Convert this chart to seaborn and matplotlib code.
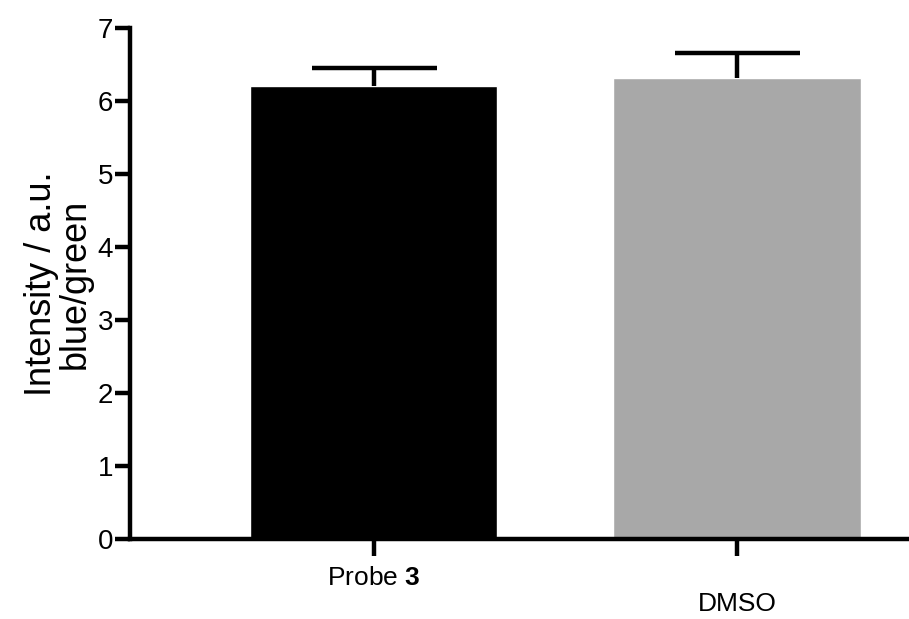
import matplotlib
matplotlib.use("Agg")
import matplotlib.pyplot as plt
import seaborn as sns
import pandas as pd
import numpy as np

categories = ["Probe 3", "DMSO"]
tick_labels = ["Probe $\\mathbf{3}$", "\nDMSO"]
means = [6.20, 6.32]
errors = [0.25, 0.33]
colors = ["#000000", "#A8A8A8"]

sns.set_style("ticks")
plt.rcParams["font.family"] = ["Liberation Sans", "DejaVu Sans"]
plt.rcParams["mathtext.fontset"] = "custom"
plt.rcParams["mathtext.rm"] = "Liberation Sans"
plt.rcParams["mathtext.bf"] = "Liberation Sans:bold"
for k in ["axes.edgecolor", "xtick.color", "ytick.color", "text.color",
          "axes.labelcolor", "xtick.labelcolor", "ytick.labelcolor"]:
    plt.rcParams[k] = "black"

df = pd.DataFrame({"cat": categories, "val": means})

fig = plt.figure(figsize=(9.09, 6.19), dpi=100)
ax = fig.add_axes([0.143, 0.129, 0.857, 0.826])

sns.barplot(data=df, x="cat", y="val", hue="cat", palette=colors, width=0.68,
            errorbar=None, legend=False, ax=ax, saturation=1)

eb = ax.errorbar(range(len(categories)), means,
                 yerr=[np.zeros(len(errors)), errors], fmt="none",
                 ecolor="black", elinewidth=3.2, capsize=45, capthick=3.2, zorder=5)
caplines = eb.lines[1]
if len(caplines) > 1:
    caplines[0].set_visible(False)

ax.set_ylim(0, 7)
ax.set_xlim(-0.67, 1.473)
ax.set_yticks(range(0, 8))
ax.set_xticks(range(len(categories)))
ax.set_xticklabels(tick_labels, fontsize=19, linespacing=1.15)
ax.tick_params(axis="y", labelsize=20, width=3.2, length=11, pad=1)
ax.tick_params(axis="x", width=3.2, length=12, pad=7)
ax.set_xlabel("")
ax.set_ylabel("Intensity / a.u.\nblue/green", fontsize=26, linespacing=0.95, labelpad=4)

for s in ["left", "bottom"]:
    ax.spines[s].set_linewidth(3.2)
sns.despine(ax=ax)

fig.savefig("out.png", dpi=100)
